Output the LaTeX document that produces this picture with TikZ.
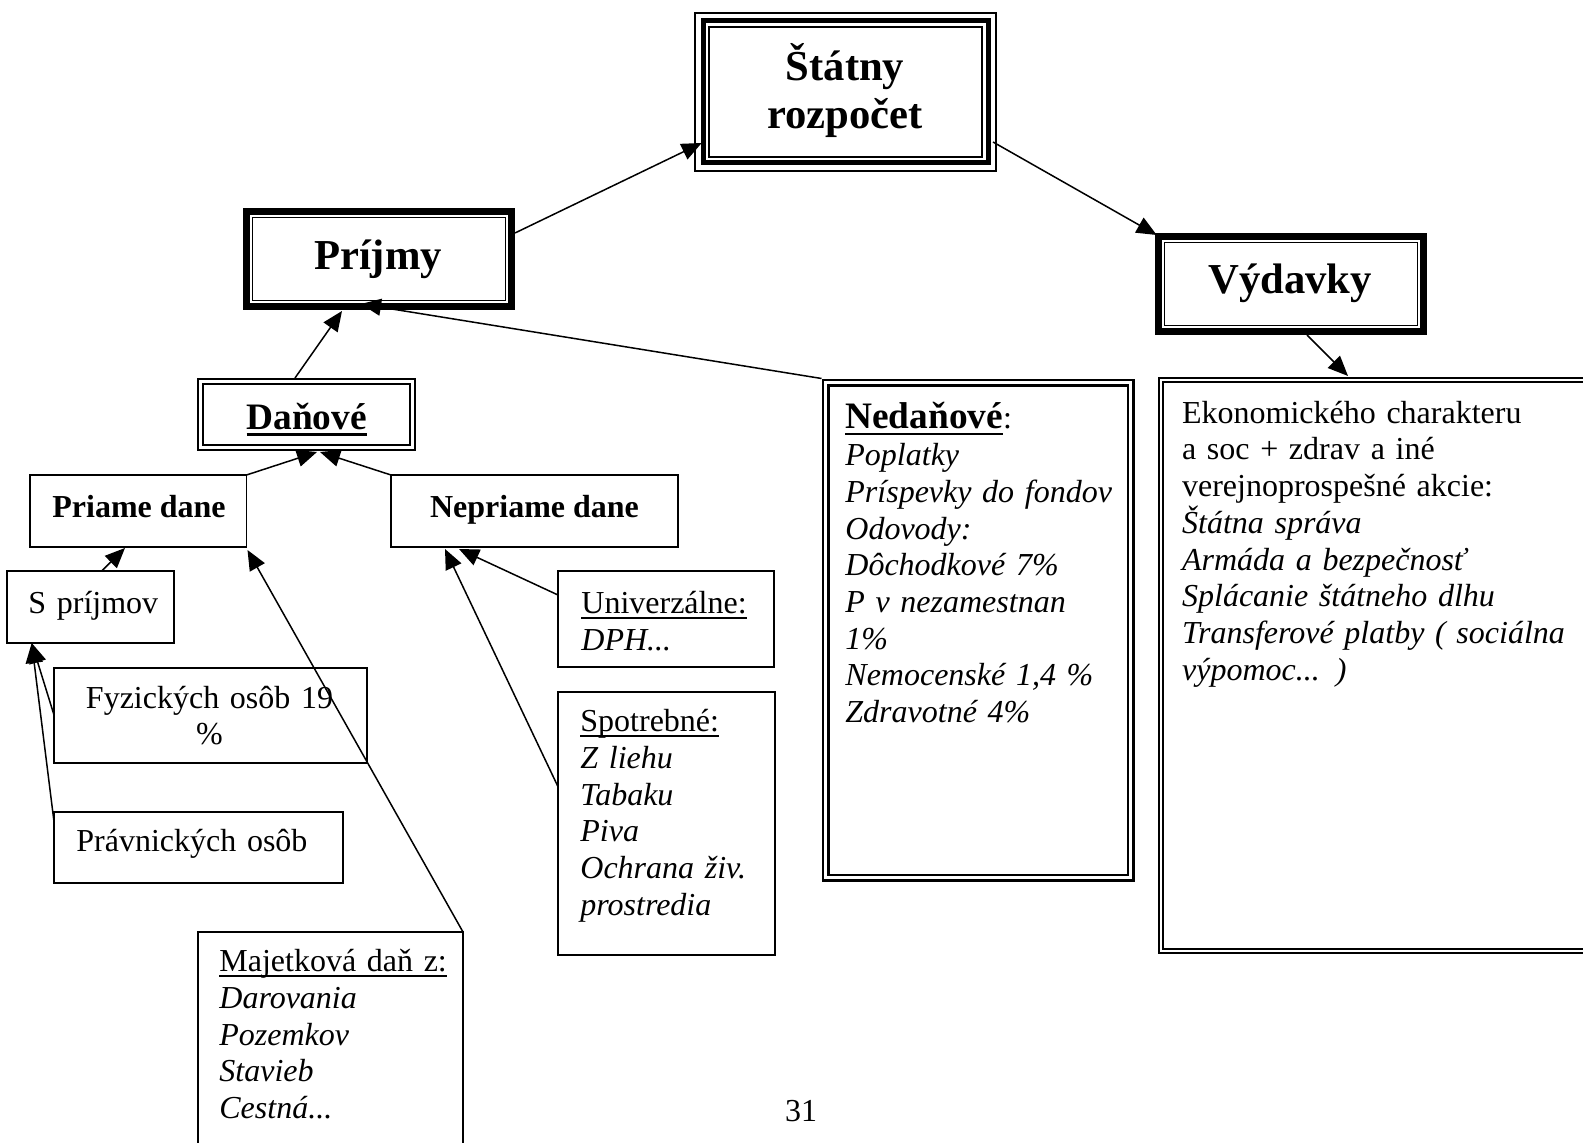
\documentclass[tikz,border=0pt]{standalone}
\usepackage{fontspec}
\setmainfont{Liberation Serif}
\usetikzlibrary{arrows.meta,calc,fit}
\newcommand\mybig{\bfseries\fontsize{21.33}{24.25}\selectfont}
\newcommand\mymid{\bfseries\fontsize{18.67}{21}\selectfont}
\newcommand\mysb{\bfseries\fontsize{16}{18.35}\selectfont}
\newcommand\myn{\fontsize{16}{18.35}\selectfont}
\newcommand\myul[1]{\setbox0\hbox{#1}\rlap{\rule[-0.17em]{\wd0}{0.065em}}\box0}
\newcommand\myframe[3]{\draw[line width=#3] ([shift={(#2,#2)}]#1.north west) rectangle ([shift={(-#2,-#2)}]#1.south east);}
\begin{document}
\begin{tikzpicture}[x=0.5pt,y=-0.5pt,
  conn/.style={line width=0.75pt, -{Triangle[length=10pt,width=8.5pt]}},
  area/.style={inner sep=0pt, outer sep=0pt, draw=none},
  plainbox/.style={inner sep=0pt, outer sep=0pt, draw, line width=0.8pt},
  txt/.style={inner sep=0pt, anchor=base west, align=left, text width=#1, font=\myn},
  ctr/.style={inner sep=0pt, anchor=base}]
\useasboundingbox (0,0) rectangle (1583,1143);
\clip (0,0) rectangle (1583,1143);

% ---- boxes ----
\node[area, fit={(694,12)(997,172)}] (st) {};
\myframe{st}{1}{1pt}
\myframe{st}{9}{2.5pt}
\myframe{st}{15}{1pt}

\node[area, fit={(243,208)(515,310)}] (pr) {};
\myframe{pr}{3.3}{3.3pt}
\myframe{pr}{9.3}{0.7pt}

\node[area, fit={(1155,233)(1427,335)}] (vy) {};
\myframe{vy}{3.3}{3.3pt}
\myframe{vy}{9.3}{0.7pt}

\node[area, fit={(197,378)(416,451)}] (da) {};
\myframe{da}{1.2}{1.2pt}
\myframe{da}{6.3}{0.9pt}

\node[area, fit={(821.5,378.5)(1135,882)}] (ne) {};
\myframe{ne}{1.5}{1.4pt}
\myframe{ne}{7}{1.2pt}

\node[area, fit={(1158,377)(1640,954)}] (vc) {};
\myframe{vc}{1.2}{1pt}
\myframe{vc}{5.2}{1pt}

\node[plainbox, fit={(30,475)(246.5,547)}] (pd) {};
\node[plainbox, fit={(391,475)(678,547)}] (np) {};
\node[plainbox, fit={(7,571)(174,643)}] (sp) {};
\node[plainbox, fit={(54,668)(367,763)}] (fy) {};
\node[plainbox, fit={(54,812)(343,883)}] (pv) {};
\node[plainbox, fit={(198,932)(463,1170)}] (mj) {};
\node[plainbox, fit={(558,571)(774,667)}] (un) {};
\node[plainbox, fit={(558,692)(775,955)}] (so) {};

% ---- texts ----
\node[ctr, align=center, text width=200pt, font=\mybig] (stt) at (845,80.3) {Štátny\\rozpočet};
\node[ctr, font=\mybig] (prt) at (378,269.7) {Príjmy};
\node[ctr, font=\mybig] (vyt) at (1290,293.7) {Výdavky};
\node[ctr, font=\mymid] (dat) at (306.7,429.3) {\myul{Daňové}};
\node[ctr, font=\mysb] (pdt) at (139,518) {Priame dane};
\node[ctr, font=\mysb] (npt) at (534.5,517.7) {Nepriame dane};
\node[txt=120pt] (spt) at (28,613) {S príjmov};
\node[ctr, align=center, text width=150pt, font=\myn] (fyt) at (209.5,708.2) {Fyzických osôb 19\\\%};
\node[txt=150pt] (pvt) at (76,851.5) {Právnických osôb};
\node[txt=250pt] (mjt) at (219,971.7) {\myul{Majetková daň z:}\\\itshape Darovania\\Pozemkov\\Stavieb\\Cestná...};
\node[txt=150pt] (unt) at (581,613.5) {\myul{Univerzálne:}\\\itshape DPH...};
\node[txt=150pt] (sot) at (580,731.8) {\myul{Spotrebné:}\\\itshape Z liehu\\Tabaku\\Piva\\Ochrana živ.\\prostredia};
\node[txt=300pt] (net) at (845,429) {{\mymid\myul{Nedaňové}}:\\\itshape Poplatky\\Príspevky do fondov\\Odovody:\\Dôchodkové 7\%\\P v nezamestnan\\1\%\\Nemocenské 1,4 \%\\Zdravotné 4\%};
\node[txt=300pt] (vct) at (1181.7,423.3) {Ekonomického charakteru\\a soc + zdrav a iné\\verejnoprospešné akcie:\\\itshape Štátna správa\\Armáda a bezpečnosť\\Splácanie štátneho dlhu\\Transferové platby ( sociálna\\výpomoc... )};
\node[ctr, font=\myn] (pg) at (801,1121) {31};

% ---- connectors ----
\draw[conn] ($(pr.north east)+(0,25)$) -- ($(st.west)+(7.7,51)$);
\draw[conn] ($(st.east)+(-4,50)$) -- ($(vy.north west)+(1.7,2)$);
\draw[conn] ($(vy.south)+(16,0)$) -- ($(vc.north west)+(190,-1)$);
\draw[conn] ($(da.north west)+(98,0)$) -- ($(pr.south west)+(99,1)$);
\draw[conn] (ne.north west) -- ($(pr.south west)+(118,-6)$);
\draw[conn] (pd.north east) -- ($(da.south west)+(120,1)$);
\draw[conn] (np.north west) -- ($(da.south west)+(123,1)$);
\draw[conn] ($(sp.north west)+(94.7,0)$) -- ($(pd.south west)+(95,1)$);
\draw[conn] ($(fy.west)+(0,-0.5)$) -- ($(sp.south west)+(24.7,0)$);
\draw[conn] ($(pv.north west)+(0,9.7)$) -- ($(sp.south west)+(24.7,0)$);
\draw[conn] (mj.north east) -- ($(pd.south east)+(1,3)$);
\draw[conn] ($(un.north west)+(0,24)$) -- ($(np.south west)+(68,2)$);
\draw[conn] ($(so.north west)+(0,94.7)$) -- ($(np.south west)+(54,2)$);
\end{tikzpicture}
\end{document}
